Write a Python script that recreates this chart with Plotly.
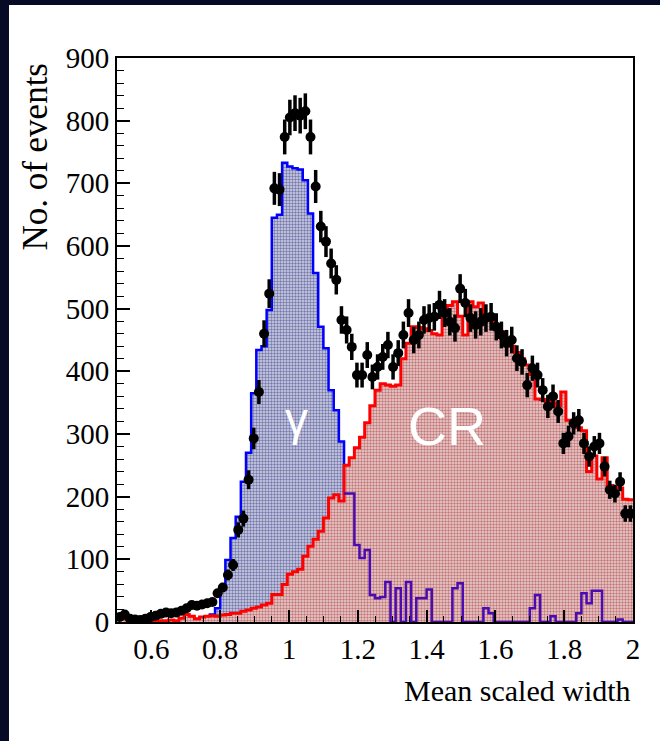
import numpy as np
import plotly.graph_objects as go

# ---------------- data ----------------
x_min, x_max, n_bins = 0.5, 2.0, 100

gamma_counts = [0, 0, 0, 0, 0, 0, 0, 0, 0, 0,
                0, 0, 0, 0, 0, 0, 2, 5, 12, 22,
                56, 99, 134, 168, 224, 270, 365, 434, 440, 498,
                645, 650, 733, 727, 724, 722, 705, 652, 557, 471,
                437, 370, 338, 288, 205, 205, 123, 102, 115, 43,
                38, 40, 64, 0, 54, 0, 64, 0, 38, 38,
                52, 0, 0, 0, 0, 54, 62, 0, 0, 0,
                0, 22, 14, 0, 0, 0, 0, 0, 0, 0,
                22, 43, 0, 0, 9, 0, 0, 0, 0, 14,
                46, 30, 50, 50, 0, 0, 0, 4, 0, 0]

cr_counts = [4, 5, 3, 4, 2, 2, 1, 2, 2, 2,
             3, 2, 6, 12, 9, 5, 8, 9, 10, 9,
             11, 12, 14, 14, 17, 19, 22, 24, 27, 30,
             44, 44, 60, 76, 80, 84, 105, 121, 132, 145,
             166, 198, 203, 193, 250, 262, 278, 295, 318, 345,
             370, 380, 378, 376, 378, 420, 445, 471, 470, 468,
             465, 460, 458, 492, 505, 511, 488, 458, 511, 503,
             509, 490, 482, 470, 463, 452, 440, 430, 420, 410,
             395, 356, 355, 352, 350, 345, 367, 322, 315, 310,
             305, 240, 265, 228, 262, 218, 216, 214, 196, 195]

data_counts = [8, 12, 5, 4, 3, 5, 8, 10, 13, 15,
               14, 15, 18, 22, 27, 26, 28, 30, 32, 46,
               55, 75, 91, 147, 165, 227, 293, 367, 460, 524,
               692, 690, 774, 805, 812, 808, 815, 774, 695, 631,
               607, 572, 546, 482, 466, 439, 394, 394, 426, 391,
               407, 423, 442, 407, 429, 458, 493, 450, 458, 482,
               485, 487, 506, 493, 479, 469, 532, 509, 485, 474,
               479, 485, 487, 471, 458, 445, 450, 421, 415, 378,
               405, 394, 370, 344, 360, 336, 285, 296, 317, 322,
               285, 264, 280, 285, 248, 211, 205, 224, 173, 173]

x_tick_vals = [0.6, 0.8, 1.0, 1.2, 1.4, 1.6, 1.8, 2.0]
x_tick_text = ["0.6", "0.8", "1", "1.2", "1.4", "1.6", "1.8", "2"]
y_tick_vals = [0, 100, 200, 300, 400, 500, 600, 700, 800, 900]
y_tick_text = ["0", "100", "200", "300", "400", "500", "600", "700", "800", "900"]

# ---------------- derived ----------------
edges = np.linspace(x_min, x_max, n_bins + 1)
centers = 0.5 * (edges[:-1] + edges[1:])
gamma = np.array(gamma_counts, float)
cr = np.array(cr_counts, float)
data = np.array(data_counts, float)
err = np.sqrt(data)

step_x = np.append(edges[:-1], edges[-1])
gamma_y = np.append(gamma, gamma[-1])
cr_y = np.append(cr, cr[-1])

# where the gamma histogram lies under the CR one (after its peak)
peak = int(np.argmax(gamma))
start = peak + int(np.argmax(gamma[peak:] < cr[peak:]))

SERIF = "Liberation Serif, Times New Roman, serif"
SANS = "Liberation Sans, Arial, sans-serif"

fig = go.Figure()

fig.add_trace(go.Scatter(
    x=step_x, y=gamma_y, mode="lines", line=dict(color="#0000ff", width=2.5, shape="hv"),
    fill="tozeroy", fillcolor="rgba(160,165,205,1)",
    fillpattern=dict(shape=".", fgcolor="#15207a", bgcolor="#d3d5e4", size=3, solidity=0.5),
    hoverinfo="skip", showlegend=False))

fig.add_trace(go.Scatter(
    x=step_x, y=cr_y, mode="lines", line=dict(color="#ff0000", width=3, shape="hv"),
    fill="tozeroy", fillcolor="rgba(215,170,170,1)",
    fillpattern=dict(shape=".", fgcolor="#9a2020", bgcolor="#ecd2d2", size=3, solidity=0.5),
    hoverinfo="skip", showlegend=False))

fig.add_trace(go.Scatter(
    x=step_x[start:], y=gamma_y[start:], mode="lines",
    line=dict(color="#4a0cb0", width=2.5, shape="hv"),
    hoverinfo="skip", showlegend=False))

fig.add_trace(go.Scatter(
    x=centers, y=data, mode="markers",
    marker=dict(color="black", size=10, symbol="circle"),
    error_y=dict(type="data", array=err, visible=True, color="black", thickness=3.5, width=0),
    showlegend=False))

# labels inside the plot
fig.add_annotation(x=1.021, y=324, xref="x", yref="y", text="γ", showarrow=False,
                   font=dict(family=SANS, size=46, color="white"))
fig.add_annotation(x=1.458, y=312, xref="x", yref="y", text="CR", showarrow=False,
                   font=dict(family=SANS, size=54, color="white"))

# axis titles
fig.add_annotation(x=1.0, y=-0.122, xref="paper", yref="paper", text="Mean scaled width",
                   showarrow=False, xanchor="right", yanchor="middle",
                   font=dict(family=SERIF, size=30, color="black"))
fig.add_annotation(x=-0.158, y=0.826, xref="paper", yref="paper", text="No. of events",
                   showarrow=False, textangle=-90, xanchor="center", yanchor="middle",
                   font=dict(family=SERIF, size=35, color="black"))

# dark frame on left and top
fig.add_shape(type="rect", xref="paper", yref="paper", x0=-0.4, x1=-0.2093, y0=-0.4, y1=1.3,
              fillcolor="#070a24", line=dict(width=0), layer="above")
fig.add_shape(type="rect", xref="paper", yref="paper", x0=-0.4, x1=1.3, y0=1.094, y1=1.3,
              fillcolor="#070a24", line=dict(width=0), layer="above")

fig.update_xaxes(range=[x_min, x_max], tickvals=x_tick_vals, ticktext=x_tick_text,
                 ticks="inside", ticklen=12, tickwidth=1.5, tickcolor="black",
                 minor=dict(ticks="inside", ticklen=6, dtick=0.05, tick0=0.5, tickcolor="black", tickwidth=1.2),
                 showline=True, linecolor="black", linewidth=2, mirror=True,
                 showgrid=False, zeroline=False,
                 tickfont=dict(family=SERIF, size=29, color="black"))
fig.update_yaxes(range=[0, 900], tickvals=y_tick_vals, ticktext=y_tick_text,
                 ticks="inside", ticklen=13, tickwidth=1.5, tickcolor="black",
                 minor=dict(ticks="inside", ticklen=7, dtick=20, tick0=0, tickcolor="black", tickwidth=1.2),
                 showline=True, linecolor="black", linewidth=2, mirror=True,
                 showgrid=False, zeroline=False,
                 tickfont=dict(family=SERIF, size=29, color="black"))

fig.update_layout(width=660, height=741,
                  margin=dict(l=117, r=27, t=58, b=119),
                  paper_bgcolor="white", plot_bgcolor="white",
                  showlegend=False)

fig.write_html("out.html")
